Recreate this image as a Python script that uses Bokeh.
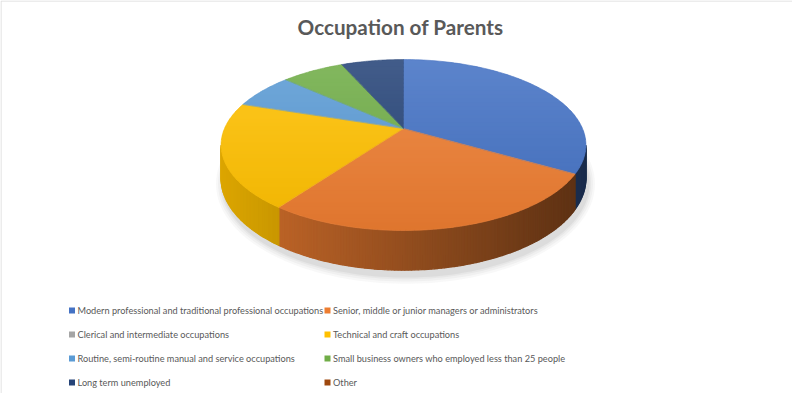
import numpy as np
from bokeh.plotting import figure
from bokeh.models import Range1d
from bokeh.core.properties import value
from bokeh.embed import file_html
from bokeh.resources import INLINE

# data (counts of responses)
labels = ["Modern professional and traditional professional occupations",
          "Senior, middle or junior managers or administrators",
          "Clerical and intermediate occupations",
          "Technical and craft occupations",
          "Routine, semi-routine manual and service occupations",
          "Small business owners who employed less than 25 people",
          "Long term unemployed",
          "Other"]
counts = [5, 4, 0, 3, 1, 1, 1, 0]
colors = ["#4472C4", "#ED7D31", "#A5A5A5", "#FFC000",
          "#5B9BD5", "#70AD47", "#264478", "#9E480E"]
title = "Occupation of Parents"

# pie geometry (screen pixels, perspective tilt)
X0, Y0 = 403.0, 128.0
A, B, K = 179.0, 82.3, 0.193
DEPTH = 32.0


def proj(theta, drop=0.0):
    u = np.sin(theta)
    v = -np.cos(theta)
    w = 1.0 / (1.0 - K * v)
    return X0 + A * u * w, Y0 + (B * v + drop) * w


def rgb(hexcol):
    return [int(hexcol[i:i + 2], 16) for i in (1, 3, 5)]


def to_hex(c):
    return "#%02x%02x%02x" % tuple(int(max(0, min(255, round(x)))) for x in c)


def shade(hexcol, f):
    return to_hex([x * f for x in rgb(hexcol)])


def lit(hexcol, t):
    # top of the pie a little lighter, front a little darker
    c = rgb(hexcol)
    m = 0.13 * (1 - t)
    c = [x + (255 - x) * m for x in c]
    return to_hex([x * (1 - 0.06 * t) for x in c])


def clip(pts, yv, keep_below):
    out = []
    n = len(pts)
    for k in range(n):
        a, b = pts[k], pts[(k + 1) % n]
        ina = a[1] >= yv if keep_below else a[1] <= yv
        inb = b[1] >= yv if keep_below else b[1] <= yv
        if ina:
            out.append(a)
        if ina != inb:
            s = (yv - a[1]) / (b[1] - a[1])
            out.append((a[0] + s * (b[0] - a[0]), yv))
    return out


p = figure(width=792, height=393, output_backend="svg", toolbar_location=None,
           x_axis_location=None, y_axis_location=None, min_border=0,
           x_range=Range1d(0, 792), y_range=Range1d(393, 0))
p.grid.visible = False
p.outline_line_color = None
p.background_fill_color = "white"

# chart border (only the left and top edges fall inside the page)
p.line([0.5, 0.5, 792], [393, 0.5, 0.5], line_color="#D9D9D9", line_width=1)

# soft shadow under the pie
ts = np.linspace(0, 2 * np.pi, 200)
for grow, a in [(7, 0.05), (5, 0.06), (3, 0.08), (1.5, 0.10)]:
    sx, sy = proj(ts, DEPTH + 3)
    cx, cy = np.mean(sx), np.mean(sy)
    sx = cx + (sx - cx) * (1 + grow / 182.0) + 2
    sy = cy + (sy - cy) * (1 + grow / 90.0) + 2
    p.patch(sx, sy, fill_color="#7f7f7f", fill_alpha=a, line_color=None)

total = float(sum(counts))
edges = np.concatenate([[0.0], np.cumsum(counts) / total * 2 * np.pi])
t_lo = np.arccos(-K)
t_hi = 2 * np.pi - t_lo

# outer side walls, darker towards the right
side_xs, side_ys, side_cols = [], [], []
for i in range(len(counts)):
    a0, a1 = max(edges[i], t_lo), min(edges[i + 1], t_hi)
    if a1 <= a0:
        continue
    n = max(2, int((a1 - a0) / 0.015))
    tt = np.linspace(a0, a1, n + 1)
    for j in range(n):
        seg = np.array([tt[j], tt[j + 1]])
        tx, ty = proj(seg)
        bx, by = proj(seg[::-1], DEPTH)
        mx = float(np.mean(tx))
        f = 0.86 - 0.48 * (mx - 222.0) / 365.0
        side_xs.append(list(tx) + list(bx))
        side_ys.append(list(ty) + list(by))
        side_cols.append(shade(colors[i], f))
p.patches(side_xs, side_ys, fill_color=side_cols, line_color=side_cols, line_width=1.3)

# top faces, cut into overlapping horizontal bands for the lighting
_, ytop = proj(0.0)
_, ybot = proj(np.pi)
bands = np.arange(ytop - 1, ybot + 4, 4.0)
top_xs, top_ys, top_cols = [], [], []
for j in range(len(bands) - 1):
    t = min(max(((bands[j] + bands[j + 1]) / 2 - ytop) / (ybot - ytop), 0), 1)
    for i in range(len(counts)):
        if counts[i] == 0:
            continue
        tt = np.linspace(edges[i], edges[i + 1], 80)
        ax, ay = proj(tt)
        poly = [(X0, Y0)] + list(zip(ax, ay))
        piece = clip(clip(poly, bands[j], True), bands[j + 1] + 1.5, False)
        if len(piece) < 3:
            continue
        top_xs.append([q[0] for q in piece])
        top_ys.append([q[1] for q in piece])
        top_cols.append(lit(colors[i], t))
p.patches(top_xs, top_ys, fill_color=top_cols, line_color=None)

# thin outline of each slice to close the antialiasing seams
out_xs, out_ys, out_cols = [], [], []
for i in range(len(counts)):
    if counts[i] == 0:
        continue
    tt = np.linspace(edges[i], edges[i + 1], 80)
    ax, ay = proj(tt)
    out_xs.append([X0] + list(ax))
    out_ys.append([Y0] + list(ay))
    out_cols.append(lit(colors[i], 0.5))
p.patches(out_xs, out_ys, fill_color=None, line_color=out_cols, line_width=0.6)

# title
p.text(x=[400], y=[26], text=[title], text_font=value("Lato"), text_font_size="20.7px",
       text_font_style="bold", text_color="#595959", text_align="center",
       text_baseline="middle")

# legend
col_x = [71.5, 327.0]
lx = [col_x[i % 2] for i in range(len(labels))]
ly = [310.0 + 24.0 * (i // 2) for i in range(len(labels))]
p.rect(lx, ly, width=6, height=6, fill_color=colors, line_color=None)
p.text(x=[x + 5.5 for x in lx], y=ly, text=labels, text_font=value("Lato"),
       text_font_size="9.2px", text_color="#595959", text_baseline="middle")

open("out.html", "w").write(file_html(p, INLINE))
